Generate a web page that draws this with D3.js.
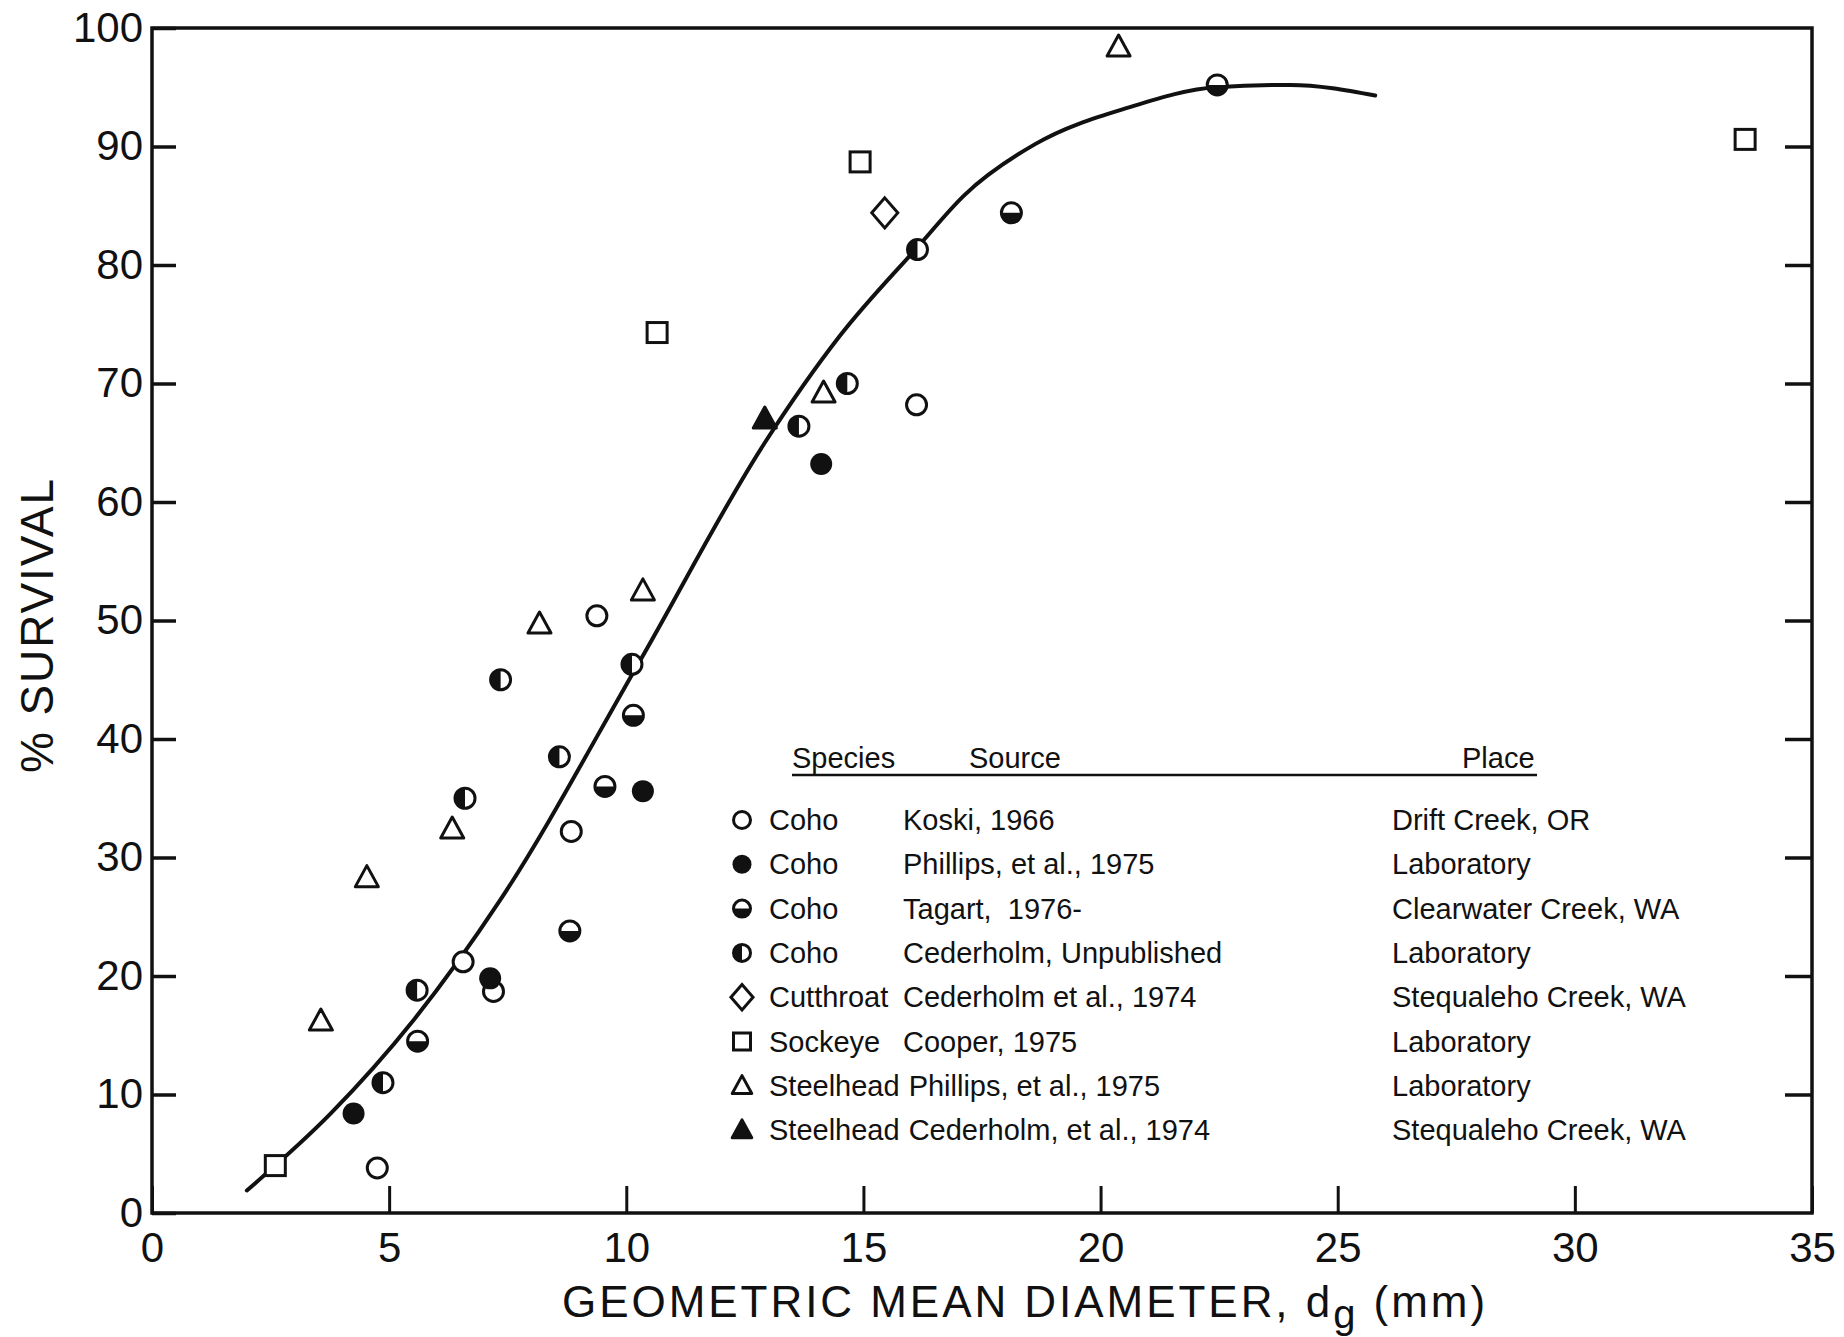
<!DOCTYPE html>
<html>
<head>
<meta charset="utf-8">
<script src="https://cdn.jsdelivr.net/npm/d3@7"></script>
<style>
  html, body { margin: 0; padding: 0; background: #fff; }
  svg text { font-family: "Liberation Sans", Arial, sans-serif; fill: #111; white-space: pre; }
</style>
</head>
<body>
<svg id="chart" width="1844" height="1337"></svg>
<script>
// values: [diameter mm, % survival]
const cohoKoski = [[4.75, 3.8], [6.56, 21.2], [7.2, 18.7], [8.84, 32.2], [9.38, 50.4], [16.12, 68.2]];
const cohoPhillips = [[4.25, 8.4], [7.13, 19.8], [10.35, 35.6], [14.11, 63.2]];
const cohoTagart = [[5.6, 14.5], [8.81, 23.8], [9.55, 36.0], [10.15, 42.0], [18.12, 84.4], [22.46, 95.2]];
const cohoCederholm = [[4.87, 11.0], [5.59, 18.8], [6.6, 35.0], [7.35, 45.0], [8.59, 38.5], [10.12, 46.3], [13.64, 66.4], [14.66, 70.0], [16.14, 81.3]];
const cutthroat = [[15.45, 84.4]];
const sockeye = [[2.6, 4.0], [10.65, 74.3], [14.93, 88.7], [33.59, 90.6]];
const steelheadPhillips = [[3.56, 16.2], [4.53, 28.3], [6.33, 32.4], [8.17, 49.7], [10.35, 52.5], [14.16, 69.2], [20.38, 98.4]];
const steelheadCederholm = [[12.92, 67.0]];

// hand-drawn fitted curve
const curveX = [2.0, 3.77, 5.5, 7.34, 10.26, 12.92, 14.5, 16.14, 17.13, 18.62, 20.6, 22.44, 24.0, 25.79];
const curveY = [1.9, 8.4, 16.2, 26.4, 46.4, 65.0, 74.0, 81.5, 85.9, 90.2, 93.3, 95.0, 95.2, 94.3];

const xTicks = [0, 5, 10, 15, 20, 25, 30, 35];
const yTicks = [0, 10, 20, 30, 40, 50, 60, 70, 80, 90, 100];

const legendSymbol = ["open", "filled", "bottom", "left", "diamond", "square", "triangle", "triangleFilled"];
const legendSpecies = ["Coho", "Coho", "Coho", "Coho", "Cutthroat", "Sockeye", "Steelhead", "Steelhead"];
const legendSource = ["Koski, 1966", "Phillips, et al., 1975", "Tagart,  1976-", "Cederholm, Unpublished",
  "Cederholm et al., 1974", "Cooper, 1975", "Phillips, et al., 1975", "Cederholm, et al., 1974"];
const legendPlace = ["Drift Creek, OR", "Laboratory", "Clearwater Creek, WA", "Laboratory",
  "Stequaleho Creek, WA", "Laboratory", "Laboratory", "Stequaleho Creek, WA"];

const series = [
  { pts: cohoKoski, sym: "open" },
  { pts: cohoTagart, sym: "bottom" },
  { pts: cohoCederholm, sym: "left" },
  { pts: cohoPhillips, sym: "filled" },
  { pts: cutthroat, sym: "diamond" },
  { pts: sockeye, sym: "square" },
  { pts: steelheadPhillips, sym: "triangle" },
  { pts: steelheadCederholm, sym: "triangleFilled" }
];

const svg = d3.select("#chart");
const ink = "#111";

const x = d3.scaleLinear().domain([0, 35]).range([152, 1812]);
const y = d3.scaleLinear().domain([0, 100]).range([1213, 28]);

// ticks (inward) and labels
svg.append("g")
  .attr("transform", `translate(${x(0)},0)`)
  .call(d3.axisLeft(y).tickValues(yTicks).tickSize(-24).tickPadding(9).tickFormat(d3.format("d")))
  .call(g => g.select(".domain").remove())
  .call(g => g.selectAll("line").attr("stroke", ink).attr("stroke-width", 3.5))
  .call(g => g.selectAll("text").attr("font-size", 42).attr("fill", ink).style("font-family", "Liberation Sans"));

svg.append("g")
  .attr("transform", `translate(${x(35)},0)`)
  .call(d3.axisRight(y).tickValues(yTicks.slice(1, -1)).tickSize(-27).tickFormat(""))
  .call(g => g.select(".domain").remove())
  .call(g => g.selectAll("line").attr("stroke", ink).attr("stroke-width", 3.5));

svg.append("g")
  .attr("transform", `translate(0,${y(0)})`)
  .call(d3.axisBottom(x).tickValues(xTicks).tickSize(-27).tickPadding(19).tickFormat(d3.format("d")))
  .call(g => g.select(".domain").remove())
  .call(g => g.selectAll("line").attr("stroke", ink).attr("stroke-width", 3))
  .call(g => g.selectAll("text").attr("font-size", 42).attr("fill", ink).style("font-family", "Liberation Sans"));

// frame
svg.append("rect")
  .attr("x", x(0)).attr("y", y(100))
  .attr("width", x(35) - x(0)).attr("height", y(0) - y(100))
  .attr("fill", "none").attr("stroke", ink).attr("stroke-width", 3.5);

// axis titles
const xTitle = svg.append("text")
  .attr("x", 1025).attr("y", 1317)
  .attr("text-anchor", "middle")
  .attr("font-size", 44);
xTitle.append("tspan").text("GEOMETRIC MEAN DIAMETER, d");
xTitle.append("tspan").attr("dy", 11).attr("font-size", 40).text("g");
xTitle.append("tspan").attr("dy", -11).text(" (mm)");
{
  const w = xTitle.node().getComputedTextLength();
  const n = "GEOMETRIC MEAN DIAMETER, dg (mm)".length;
  xTitle.style("letter-spacing", `${(926 - w) / n}px`);
}

const yTitle = svg.append("text")
  .attr("transform", "translate(53,625) rotate(-90)")
  .attr("text-anchor", "middle")
  .attr("font-size", 46)
  .text("% SURVIVAL");
{
  const w = yTitle.node().getComputedTextLength();
  yTitle.style("letter-spacing", `${(296 - w) / 10}px`);
}

// fitted curve
const line = d3.line()
  .x(d => x(d[0])).y(d => y(d[1]))
  .curve(d3.curveMonotoneX);
svg.append("path")
  .datum(d3.zip(curveX, curveY))
  .attr("d", line)
  .attr("fill", "none")
  .attr("stroke", ink)
  .attr("stroke-width", 4)
  .attr("stroke-linecap", "round");

function drawSymbol(g, sym, s) {
  const r = 10 * s;
  const sw = 3;
  if (sym === "filled") {
    g.append("circle").attr("r", r + 1).attr("fill", ink);
  } else if (sym === "open" || sym === "bottom" || sym === "left") {
    g.append("circle").attr("r", r).attr("fill", "#fff").attr("stroke", ink).attr("stroke-width", sw);
    if (sym === "left") {
      g.append("path").attr("d", `M0,${-r}A${r},${r} 0 0 0 0,${r}Z`).attr("fill", ink);
    } else if (sym === "bottom") {
      g.append("path").attr("d", `M${-r},0A${r},${r} 0 0 0 ${r},0Z`).attr("fill", ink);
    }
  } else if (sym === "square") {
    const h = 10 * s;
    g.append("rect").attr("x", -h).attr("y", -h).attr("width", 2 * h).attr("height", 2 * h)
      .attr("fill", "#fff").attr("stroke", ink).attr("stroke-width", sw);
  } else if (sym === "diamond") {
    const w = 13 * s, h = 15 * s;
    g.append("path").attr("d", `M0,${-h}L${w},0L0,${h}L${-w},0Z`)
      .attr("fill", "#fff").attr("stroke", ink).attr("stroke-width", sw);
  } else {
    const w = 11.5 * s;
    g.append("path").attr("d", `M0,${-12 * s}L${w},${9 * s}L${-w},${9 * s}Z`)
      .attr("fill", sym === "triangleFilled" ? ink : "#fff")
      .attr("stroke", ink).attr("stroke-width", sw).attr("stroke-linejoin", "round");
  }
}

// data points
series.forEach(sr => {
  svg.append("g").selectAll("g")
    .data(sr.pts)
    .join("g")
    .attr("transform", d => `translate(${x(d[0])},${y(d[1])})`)
    .each(function () { drawSymbol(d3.select(this), sr.sym, 1); });
});

// legend
const lg = svg.append("g").attr("font-size", 29);
lg.append("text").attr("x", 792).attr("y", 768).text("Species");
lg.append("text").attr("x", 969).attr("y", 768).text("Source");
lg.append("text").attr("x", 1462).attr("y", 768).text("Place");
lg.append("line")
  .attr("x1", 792).attr("x2", 1537).attr("y1", 775).attr("y2", 775)
  .attr("stroke", ink).attr("stroke-width", 2.5);

legendSpecies.forEach((sp, i) => {
  const base = 830 + i * 44.3;
  const mg = lg.append("g").attr("transform", `translate(742,${base - 10})`);
  drawSymbol(mg, legendSymbol[i], 0.85);
  const t = lg.append("text").attr("x", 769).attr("y", base).text(sp);
  const end = 769 + t.node().getComputedTextLength();
  lg.append("text").attr("x", Math.max(903, end + 9)).attr("y", base).text(legendSource[i]);
  lg.append("text").attr("x", 1392).attr("y", base).text(legendPlace[i]);
});
</script>
</body>
</html>
